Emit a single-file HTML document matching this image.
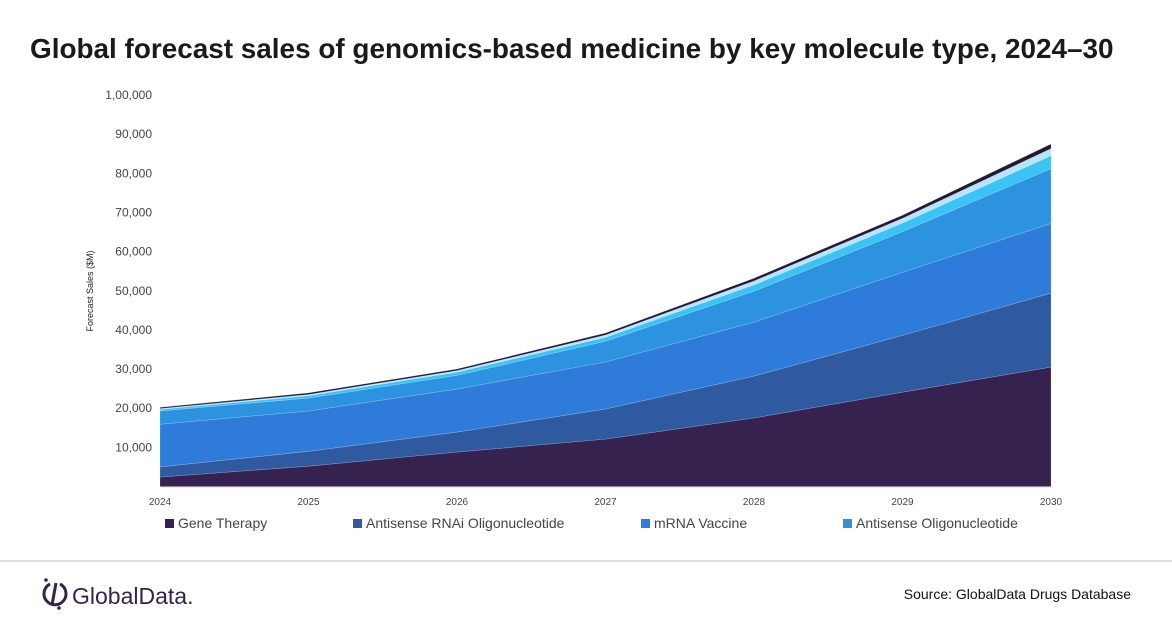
<!DOCTYPE html>
<html><head><meta charset="utf-8"><style>
body{margin:0;width:1172px;height:628px;background:#fff;font-family:"Liberation Sans",sans-serif;overflow:hidden;position:relative}
#title{position:absolute;left:30px;top:33px;font-size:27.9px;font-weight:bold;color:#1a1a1a;white-space:nowrap;letter-spacing:0px}
svg{position:absolute;left:0;top:0}
</style></head><body>
<div id="title">Global forecast sales of genomics-based medicine by key molecule type, 2024–30</div>
<svg id="chart" width="1172" height="628"></svg>
<script>
const years=["2024","2025","2026","2027","2028","2029","2030"];
const geneTherapy=[2400,5200,8800,12100,17500,24100,30500];
const antisenseRNAi=[2600,3800,5100,7700,10700,14500,18900];
const mrnaVaccine=[10900,10300,11000,12000,13800,16100,17800];
const antisenseOligo=[3400,3300,3500,5300,7900,10400,14000];
const otherA=[400,600,800,1000,1600,2200,3300];
const otherB=[200,300,400,600,1000,1200,1800];
const otherC=[300,400,400,500,700,800,1200];
const yTicks=[10000,20000,30000,40000,50000,60000,70000,80000,90000,100000];
const yTickLabels=["10,000","20,000","30,000","40,000","50,000","60,000","70,000","80,000","90,000","1,00,000"];
const legendLabels=["Gene Therapy","Antisense RNAi Oligonucleotide","mRNA Vaccine","Antisense Oligonucleotide"];
const series=[geneTherapy,antisenseRNAi,mrnaVaccine,antisenseOligo,otherA,otherB,otherC];
const colors=["#35224f","#2f5aa0","#2e7bd9","#2d93e0","#3ac4f5","#b8e4fa","#221a35"];
const names=["area-gene-therapy","area-antisense-rnai","area-mrna-vaccine","area-antisense-oligo","area-other-a","area-other-b","area-other-c"];
const NS="http://www.w3.org/2000/svg";
const svg=document.getElementById('chart');
const x=i=>160+i*(1051-160)/(years.length-1);
const y=v=>486.5-v*(486.5-95)/100000;
function mk(t,a){const e=document.createElementNS(NS,t);for(const k in a)e.setAttribute(k,a[k]);svg.appendChild(e);return e;}
let base=years.map(()=>0);
series.forEach((s,si)=>{
  const top=base.map((b,i)=>b+s[i]);
  let d="M"+top.map((v,i)=>x(i)+","+y(v)).join("L");
  for(let i=years.length-1;i>=0;i--)d+="L"+x(i)+","+y(base[i]);
  const p=mk('path',{d:d+"Z",fill:colors[si],stroke:"rgba(255,255,255,0.25)","stroke-width":"0.6"});
  
  
  base=top;
});
const ax=mk('line',{x1:160,x2:1051,y1:487,y2:487,stroke:"#d9d9d9"});


yTicks.forEach((t,i)=>{
  const e=mk('text',{x:152,y:y(t)+4,"text-anchor":"end","font-size":"12",fill:"#444"});
  e.textContent=yTickLabels[i];
  
  
});
years.forEach((yr,i)=>{
  const e=mk('text',{x:x(i),y:505,"text-anchor":"middle","font-size":"10",fill:"#444"});
  e.textContent=yr;
  
  
});
const yt=mk('text',{x:0,y:0,transform:"translate(93,291) rotate(-90)","text-anchor":"middle","font-size":"9",fill:"#222"});
yt.textContent="Forecast Sales ($M)";


const lx=[165,353,641,843];
legendLabels.forEach((l,i)=>{
  const r=mk('rect',{x:lx[i],y:519,width:9,height:9,fill:colors[i]});
  
  
  const t=mk('text',{x:lx[i]+13,y:528,"font-size":"14",fill:"#444"});
  t.textContent=l;
  
  
});
const hr=mk('line',{x1:0,x2:1172,y1:561,y2:561,stroke:"#bdbdbd"});


const lg=mk('g',{});


lg.innerHTML='<path d="M50,584 A11,11 0 1 0 60,584" fill="none" stroke="#35224f" stroke-width="3"/><line x1="56" y1="583" x2="52" y2="605" stroke="#35224f" stroke-width="3"/><circle cx="46" cy="580" r="1.8" fill="#35224f"/><circle cx="59" cy="608" r="1.8" fill="#35224f"/><text x="72" y="604" font-size="23" fill="#35224f" font-family="Liberation Sans, sans-serif">GlobalData.</text>';
const src=mk('text',{x:1131,y:599,"text-anchor":"end","font-size":"14",fill:"#111"});
src.textContent="Source: GlobalData Drugs Database";


</script>
</body></html>
